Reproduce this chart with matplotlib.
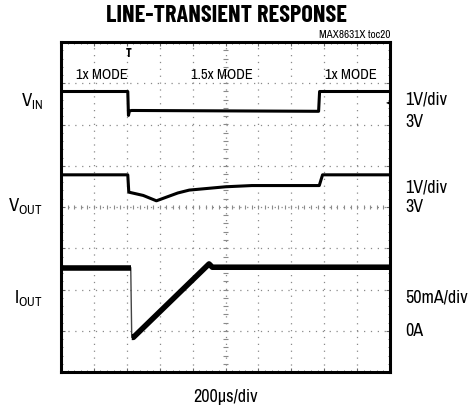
import numpy as np
import matplotlib
matplotlib.use("Agg")
import matplotlib.pyplot as plt

LBL = ['Archivo Narrow', 'PT Sans Narrow', 'DejaVu Sans']
plt.rcParams['font.family'] = LBL
plt.rcParams['mathtext.fontset'] = 'custom'
plt.rcParams['mathtext.rm'] = 'Archivo Narrow'
plt.rcParams['mathtext.it'] = 'Archivo Narrow'

# scope traces, in divisions (x: 0..10, y: 0..8 from bottom)
vin_t = [0, 2.03, 2.05, 2.08, 2.15, 5.0, 7.83, 7.86, 10]
vin_v = [6.80, 6.80, 6.22, 6.33, 6.34, 6.33, 6.32, 6.80, 6.80]

vout_t = [0, 2.03, 2.06, 2.5, 2.9, 3.55, 3.9, 5.0, 5.8, 7.85, 7.95, 10]
vout_v = [4.78, 4.78, 4.36, 4.28, 4.15, 4.34, 4.41, 4.49, 4.52, 4.52, 4.78, 4.78]

iout_t = [0, 2.12, 2.15, 2.2, 4.5, 4.6, 10]
iout_v = [2.53, 2.53, 0.84, 0.84, 2.62, 2.54, 2.54]

modes = ['1x MODE', '1.5x MODE', '1x MODE']
mode_x = [1.25, 4.9, 8.8]

W, H = 473, 408
fig = plt.figure(figsize=(W / 100, H / 100), dpi=100)
ax = fig.add_axes([61 / W, 36 / H, 329 / W, 330 / H])
ax.set_xlim(0, 10)
ax.set_ylim(0, 8)

# graticule
gc = '#8a8a8a'
for x in range(1, 10):
    ax.axvline(x, color=gc, lw=0.9, ls=(0, (1, 4.5)), zorder=1)
for y in range(1, 8):
    ax.axhline(y, color=gc, lw=0.9, ls=(0, (1, 4.5)), zorder=1)
sub = np.arange(0.2, 10, 0.2)
ax.vlines(sub, 4 - 0.05, 4 + 0.05, color=gc, lw=0.8, zorder=1)
suby = np.arange(0.2, 8, 0.2)
ax.hlines(suby, 5 - 0.07, 5 + 0.07, color=gc, lw=0.8, zorder=1)

ax.set_xticks(range(11))
ax.set_yticks(range(9))
ax.set_xticks(np.arange(0, 10.01, 0.2), minor=True)
ax.set_yticks(np.arange(0, 8.01, 0.2), minor=True)
ax.tick_params(which='both', direction='in', top=True, right=True,
               labelbottom=False, labelleft=False, color='#666666')
ax.tick_params(which='major', length=3, width=0.8)
ax.tick_params(which='minor', length=1.5, width=0.6)
for s in ax.spines.values():
    s.set_linewidth(2.2)

ax.plot(vin_t, vin_v, color='black', lw=2.2, zorder=3)
ax.plot(vout_t, vout_v, color='black', lw=2.2, zorder=3)
ax.plot(iout_t, iout_v, color='#444444', lw=1.0, zorder=3)
ax.plot(iout_t[:2], iout_v[:2], color='black', lw=4.0, zorder=3, solid_capstyle='butt')
ax.plot(iout_t[2:], iout_v[2:], color='black', lw=4.0, zorder=3, solid_capstyle='butt')

for m, x in zip(modes, mode_x):
    ax.text(x, 7.2, m, ha='center', va='center', fontsize=10.5)

# trigger marker and channel ground marker
ax.text(2.05, 7.73, 'T', ha='center', va='center', fontsize=9, fontweight='bold',
        family=['Barlow Condensed', 'DejaVu Sans'])
ax.text(9.93, 6.56, '◂', ha='center', va='center', fontsize=6, family='DejaVu Sans')


def fx(x):
    return x / W


def fy(y):
    return 1 - y / H


fig.text(fx(226), fy(15.5), 'LINE-TRANSIENT RESPONSE', ha='center', va='center',
         fontsize=17.5, fontweight='bold',
         family=['Barlow Condensed', 'Fira Sans Condensed', 'DejaVu Sans'])
fig.text(fx(390), fy(34.5), 'MAX8631X toc20', ha='right', va='center', fontsize=8)

fig.text(fx(43), fy(101), r'V$_{\mathrm{IN}}$', ha='right', va='center', fontsize=13.5)
fig.text(fx(43), fy(206), r'V$_{\mathrm{OUT}}$', ha='right', va='center', fontsize=13.5)
fig.text(fx(43), fy(298), r'I$_{\mathrm{OUT}}$', ha='right', va='center', fontsize=13.5)

right_labels = [('1V/div', 100), ('3V', 122), ('1V/div', 188), ('3V', 207),
                ('50mA/div', 298), ('0A', 331)]
for t, y in right_labels:
    fig.text(fx(405), fy(y), t, ha='left', va='center', fontsize=13)

fig.text(fx(225.5), fy(397), '200µs/div', ha='center', va='center', fontsize=13)

fig.savefig('out.png', dpi=100)
